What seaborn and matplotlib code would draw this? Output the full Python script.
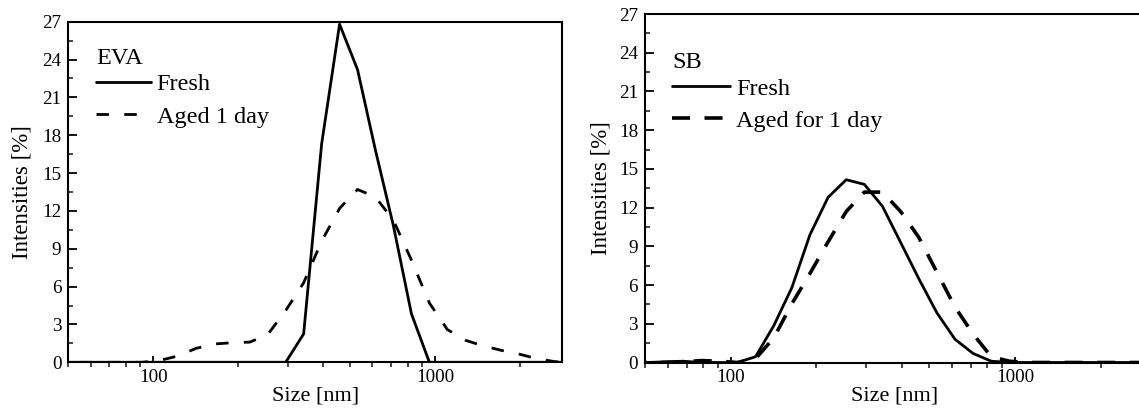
import numpy as np
import pandas as pd
import matplotlib
matplotlib.use("Agg")
import matplotlib.pyplot as plt
from matplotlib.ticker import LogLocator, MultipleLocator, NullFormatter, FixedLocator, FixedFormatter
import seaborn as sns

# ---- data (size bins in nm, intensities in %) ----
sizes = [43.82, 50.75, 58.77, 68.06, 78.82, 91.28, 105.7, 122.4, 141.8, 164.2,
         190.1, 220.2, 255.0, 295.3, 342.0, 396.1, 458.7, 531.2, 615.1, 712.4,
         825.0, 955.4, 1106, 1281, 1484, 1718, 1990, 2305, 2669, 3091]

eva_fresh = [0, 0, 0, 0, 0, 0, 0, 0, 0, 0,
             0, 0, 0, 0, 2.25, 17.3, 26.8, 23.2, 16.8, 10.8,
             3.85, 0, 0, 0, 0, 0, 0, 0, 0, 0]
eva_aged = [0, 0, 0, 0, 0, 0, 0.15, 0.5, 1.1, 1.45,
            1.55, 1.6, 2.2, 4.1, 6.3, 9.6, 12.2, 13.7, 13.1, 11.25,
            8.1, 4.7, 2.6, 1.75, 1.3, 0.95, 0.65, 0.28, 0.05, 0]

sb_fresh = [0, 0, 0.05, 0.1, 0, 0, 0, 0.45, 2.85, 5.8,
            9.9, 12.8, 14.16, 13.8, 12.1, 9.3, 6.5, 3.85, 1.8, 0.7,
            0.1, 0, 0, 0, 0, 0, 0, 0, 0, 0]
sb_aged = [0, 0, 0, 0.05, 0.15, 0.1, 0, 0.3, 1.9, 4.55,
           6.9, 9.35, 11.7, 13.2, 13.2, 11.7, 9.7, 7.0, 4.3, 2.2,
           0.45, 0.1, 0, 0, 0, 0, 0, 0, 0, 0]

panel_titles = ["EVA", "SB"]
fresh_labels = ["Fresh", "Fresh"]
aged_labels = ["Aged 1 day", "Aged for 1 day"]
yticks = [0, 3, 6, 9, 12, 15, 18, 21, 24, 27]
xticks = [100, 1000]
xlabel = "Size [nm]"
ylabel = "Intensities [%]"

sns.set_theme(style="ticks")
plt.rcParams["font.family"] = ["Liberation Serif", "DejaVu Serif"]
plt.rcParams["text.color"] = "black"
plt.rcParams["axes.labelcolor"] = "black"

fig = plt.figure(figsize=(11.39, 4.11), dpi=100)
W, H = 1139, 411
# axes boxes in pixels: left, right, top, bottom
boxes = [(68.3, 562.3, 21.7, 362.3), (645.0, 1143.5, 14.0, 362.5)]
legend_anchor = [(0.056, 0.922), (0.054, 0.89)]
dash_styles = [(4.5, 5.5), (5.0, 4.0)]
dash_lw = [2.0, 2.6]
ylabelpads = [7, 5]
handle_lengths = [2.25, 2.4]

panels = [(eva_fresh, eva_aged), (sb_fresh, sb_aged)]

for i, (l, r, t, b) in enumerate(boxes):
    ax = fig.add_axes([l / W, 1 - b / H, (r - l) / W, (b - t) / H])
    fresh, aged = panels[i]
    df = pd.DataFrame({"size": sizes, "fresh": fresh, "aged": aged})
    sns.lineplot(data=df, x="size", y="fresh", ax=ax, color="black",
                 linewidth=2.0, label=fresh_labels[i], sort=True)
    sns.lineplot(data=df, x="size", y="aged", ax=ax, color="black",
                 linewidth=dash_lw[i], label=aged_labels[i], sort=True,
                 linestyle=(0, dash_styles[i]))
    ax.set_xscale("log")
    ax.set_xlim(50, 2830)
    ax.set_ylim(0, 27)

    ax.xaxis.set_major_locator(FixedLocator(xticks))
    ax.xaxis.set_major_formatter(FixedFormatter([str(v) for v in xticks]))
    ax.xaxis.set_minor_locator(LogLocator(base=10, subs=np.arange(2, 10)))
    ax.xaxis.set_minor_formatter(NullFormatter())
    ax.yaxis.set_major_locator(FixedLocator(yticks))
    ax.yaxis.set_minor_locator(MultipleLocator(1.5))

    ax.tick_params(axis="x", which="major", direction="in", length=4.5, width=1.3,
                   labelsize=13.8, pad=5, colors="black")
    ax.tick_params(axis="x", which="minor", direction="out", length=3.5, width=1.2)
    ax.tick_params(axis="y", which="major", direction="in", length=6.5, width=1.3,
                   labelsize=13.8, pad=5, colors="black")
    ax.tick_params(axis="y", which="minor", direction="in", length=3.5, width=1.2)

    for s in ax.spines.values():
        s.set_linewidth(1.5)
        s.set_color("black")

    ax.set_xlabel(xlabel, fontsize=16, labelpad=0, color="black")
    ax.set_ylabel(ylabel, fontsize=16.5, labelpad=ylabelpads[i], color="black")

    leg = ax.legend(loc="upper left", bbox_to_anchor=legend_anchor[i],
                    title=panel_titles[i], frameon=False, fontsize=17.5,
                    title_fontsize=17.5, handlelength=handle_lengths[i],
                    handletextpad=0.25, labelspacing=0.42, borderpad=0,
                    borderaxespad=0, alignment="left")
    leg._legend_box.sep = 3
    for txt in leg.get_texts():
        txt.set_color("black")
    leg.get_title().set_color("black")

fig.savefig("out.png", dpi=100)
